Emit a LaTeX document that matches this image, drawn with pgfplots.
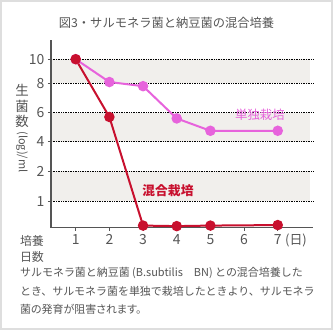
\documentclass[border=0pt]{standalone}
\usepackage{pgfplots}
\pgfplotsset{compat=1.18}
\usepackage{fontspec}
\setmainfont{Noto Sans CJK JP}
\definecolor{cred}{HTML}{C8102E}
\definecolor{cmag}{HTML}{E763DC}
\definecolor{band}{HTML}{F1EFEC}
\definecolor{txt}{HTML}{555555}
\definecolor{axc}{HTML}{555555}
\begin{document}
\begin{tikzpicture}
\begin{scope}[x=1bp,y=-1bp,shift={(-51bp,227.7bp)}]
\useasboundingbox (0,0) rectangle (333,330);
\fill[white] (0,0) rectangle (333,330);
\draw[black!13, line width=1.6bp] (0.8,0.8) rectangle (332.2,329.2);
\fill[band] (51,59.3) rectangle (310,83.3);
\fill[band] (51,112.7) rectangle (310,141.7);
\fill[band] (51,171) rectangle (310,201.3);
\node[txt, font=\fontsize{12.3}{14}\selectfont] at (166.5,22.5) {図3・サルモネラ菌と納豆菌の混合培養};
\node[txt, font=\fontsize{13.5}{14}\selectfont] at (22,90) {生};
\node[txt, font=\fontsize{13.5}{14}\selectfont] at (22,106) {菌};
\node[txt, font=\fontsize{13.5}{14}\selectfont] at (22,121) {数};
\node[txt, font=\fontsize{11}{12}\selectfont, rotate=-90, inner sep=0pt] at (22,152) {(log)/ml};
\node[txt, font=\fontsize{13}{14}\selectfont] at (296,240) {(日)};
\node[txt, font=\fontsize{12}{14}\selectfont] at (32,241) {培養};
\node[txt, font=\fontsize{12}{14}\selectfont] at (32,256.5) {日数};
\node[txt, font=\fontsize{11}{12}\selectfont, anchor=west, inner sep=0pt] at (20,273.3) {サルモネラ菌と納豆菌 (B.subtilis　BN) との混合培養した};
\node[txt, font=\fontsize{11}{12}\selectfont, anchor=west, inner sep=0pt] at (20,291.7) {とき、サルモネラ菌を単独で栽培したときより、サルモネラ};
\node[txt, font=\fontsize{11}{12}\selectfont\addfontfeatures{RawFeature=+palt}, anchor=west, inner sep=0pt] at (20,309.3) {菌の発育が阻害されます。};
\end{scope}
\begin{axis}[
  scale only axis, width=262bp, height=187.7bp,
  xmin=0.266, xmax=8.047,
  ymin=0, ymax=11.6,
  y coord trafo/.code={\pgfmathparse{26.4*min(#1,1)+30.3*max(0,min(#1,2)-1)+14.65*max(0,min(#1,4)-2)+14.5*max(0,min(#1,6)-4)+14.7*max(0,min(#1,8)-6)+12*max(0,#1-8)}},
  ytick={1,2,4,6,8,10}, yticklabels={1,2,4,6,8,10},
  xtick={1,2,3,4,5,6,7}, xticklabels={1,2,3,4,5,6,7},
  axis x line*=bottom, axis y line*=left,
  axis line style={axc, line width=1.4bp},
  tick align=outside, major tick length=3bp,
  tick style={axc, line width=0.8bp},
  ymajorgrids, grid style={black, line width=0.6bp, dash pattern=on 0.6bp off 1.1bp},
  ticklabel style={font=\fontsize{14}{15}\selectfont, text=txt},
  /pgf/number format/assume math mode=true,
  clip=false,
]
\addplot[cmag, line width=2bp, mark=*, mark size=4.2bp, mark options={fill=cmag, draw=cmag}] coordinates {
  (1,10) (2,8.1) (3,7.8) (4,5.6) (5,4.75) (7,4.75)
};
\addplot[cred, line width=2bp, mark=*, mark size=4.2bp, mark options={fill=cred, draw=cred}] coordinates {
  (1,10) (2,5.7) (3,0.08) (4,0.06) (5,0.08) (7,0.1)
};
\end{axis}
\begin{scope}[x=1bp,y=-1bp,shift={(-51bp,227.7bp)}]
\node[cmag, font=\fontsize{12.5}{14}\selectfont] at (260,115) {単独栽培};
\node[cred, font=\fontsize{12.8}{14}\selectfont\bfseries] at (168,191) {混合栽培};
\end{scope}
\end{tikzpicture}
\end{document}
